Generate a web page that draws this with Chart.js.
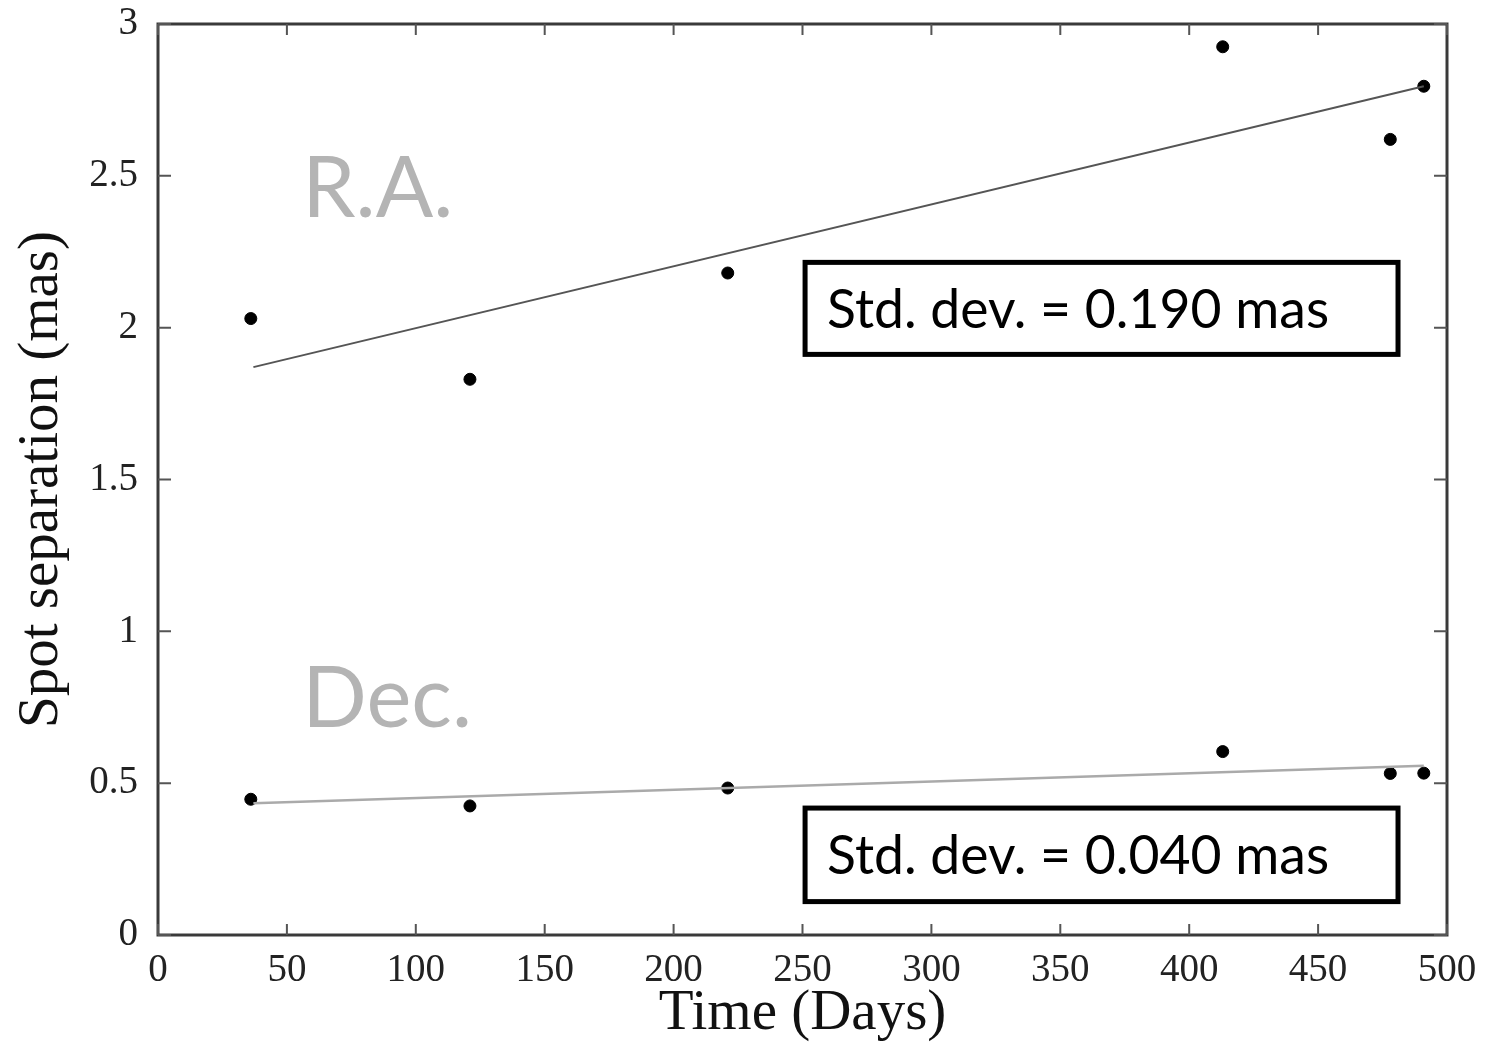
<!DOCTYPE html>
<html>
<head>
<meta charset="utf-8">
<script src="https://cdn.jsdelivr.net/npm/chart.js@4/dist/chart.umd.min.js"></script>
<style>
  html, body { margin: 0; padding: 0; background: #fff; }
  #wrap { width: 1491px; height: 1042px; }
</style>
</head>
<body>
<div id="wrap"><canvas id="c" width="1491" height="1042"></canvas></div>
<script>
// ---- data ----
const days     = [36, 121, 221, 413, 478, 491];
const raSep    = [2.03, 1.83, 2.18, 2.925, 2.62, 2.795];
const decSep   = [0.447, 0.425, 0.484, 0.604, 0.532, 0.533];
const fitDays  = [37, 491];
const raFit    = [1.87, 2.795];
const decFit   = [0.434, 0.557];
const xTicks   = [0, 50, 100, 150, 200, 250, 300, 350, 400, 450, 500];
const yTicks   = [0, 0.5, 1, 1.5, 2, 2.5, 3];
const raLabel  = 'R.A.';
const decLabel = 'Dec.';
const raStd    = 'Std. dev. = 0.190 mas';
const decStd   = 'Std. dev. = 0.040 mas';

const pts = (xs, ys) => xs.map((x, i) => ({ x: x, y: ys[i] }));

const overlay = {
  id: 'overlay',
  afterDraw(chart) {
    const ctx = chart.ctx;
    const a = chart.chartArea;
    const xs = chart.scales.x, ys = chart.scales.y;
    ctx.save();
    // frame
    ctx.strokeStyle = '#3a3a3a';
    ctx.lineWidth = 3;
    ctx.strokeRect(a.left, a.top, a.right - a.left, a.bottom - a.top);
    // inward ticks on all sides
    ctx.lineWidth = 2;
    ctx.strokeStyle = '#555';
    xTicks.forEach(v => {
      const px = xs.getPixelForValue(v);
      ctx.beginPath();
      ctx.moveTo(px, a.bottom); ctx.lineTo(px, a.bottom - 11);
      ctx.moveTo(px, a.top); ctx.lineTo(px, a.top + 11);
      ctx.stroke();
    });
    yTicks.forEach(v => {
      const py = ys.getPixelForValue(v);
      ctx.beginPath();
      ctx.moveTo(a.left, py); ctx.lineTo(a.left + 13, py);
      ctx.moveTo(a.right, py); ctx.lineTo(a.right - 13, py);
      ctx.stroke();
    });
    // big grey labels
    ctx.fillStyle = '#b4b4b4';
    ctx.font = '85px Lato, "Open Sans", sans-serif';
    ctx.textAlign = 'left';
    ctx.textBaseline = 'alphabetic';
    ctx.fillText(raLabel, xs.getPixelForValue(56), ys.getPixelForValue(2.365));
    ctx.fillText(decLabel, xs.getPixelForValue(56), ys.getPixelForValue(0.685));
    // std-dev boxes
    const box = (x0, x1, y0, y1, txt) => {
      const l = xs.getPixelForValue(x0), r = xs.getPixelForValue(x1);
      const t = ys.getPixelForValue(y0), b = ys.getPixelForValue(y1);
      ctx.fillStyle = '#fff';
      ctx.fillRect(l, t, r - l, b - t);
      ctx.strokeStyle = '#000';
      ctx.lineWidth = 5;
      ctx.strokeRect(l, t, r - l, b - t);
      ctx.fillStyle = '#000';
      ctx.font = '53.5px Lato, "Open Sans", sans-serif';
      ctx.textBaseline = 'middle';
      ctx.fillText(txt, l + 22, (t + b) / 2 + 2);
    };
    box(251, 481, 2.215, 1.912, raStd);
    box(251, 481, 0.418, 0.11, decStd);
    ctx.restore();
  }
};

new Chart(document.getElementById('c'), {
  type: 'scatter',
  data: {
    datasets: [
      { label: 'R.A. fit', data: pts(fitDays, raFit), showLine: true, borderColor: '#555', borderWidth: 2, pointRadius: 0 },
      { label: 'Dec. fit', data: pts(fitDays, decFit), showLine: true, borderColor: '#aaa', borderWidth: 2.5, pointRadius: 0 },
      { label: 'R.A.', data: pts(days, raSep), backgroundColor: '#000', borderColor: '#000', pointRadius: 6 },
      { label: 'Dec.', data: pts(days, decSep), backgroundColor: '#000', borderColor: '#000', pointRadius: 6 }
    ]
  },
  options: {
    responsive: false,
    animation: false,
    layout: { padding: { top: 24, right: 44, left: 0, bottom: 0 } },
    plugins: { legend: { display: false }, tooltip: { enabled: false } },
    scales: {
      x: {
        type: 'linear', min: 0, max: 500,
        afterBuildTicks: s => { s.ticks = xTicks.map(v => ({ value: v })); },
        afterFit: s => { s.height = 107; s.paddingLeft = 0; s.paddingRight = 0; },
        grid: { display: false, drawTicks: false },
        border: { display: false },
        ticks: { color: '#222', padding: 12, callback: v => String(v),
                 font: { family: '"Liberation Serif", "DejaVu Serif", serif', size: 39 } },
        title: { display: true, text: 'Time (Days)', color: '#111', padding: { top: 0, bottom: -6 },
                 font: { family: '"Liberation Serif", serif', size: 57 } }
      },
      y: {
        type: 'linear', min: 0, max: 3,
        afterBuildTicks: s => { s.ticks = yTicks.map(v => ({ value: v })); },
        afterFit: s => { s.width = 158; s.paddingTop = 0; s.paddingBottom = 0; },
        grid: { display: false, drawTicks: false },
        border: { display: false },
        ticks: { color: '#222', padding: 20, callback: v => String(v),
                 font: { family: '"Liberation Serif", "DejaVu Serif", serif', size: 39 } },
        title: { display: true, text: 'Spot separation (mas)', color: '#111', padding: { top: 8, bottom: 0 },
                 font: { family: '"Liberation Serif", serif', size: 57 } }
      }
    }
  },
  plugins: [overlay]
});
</script>
</body>
</html>
